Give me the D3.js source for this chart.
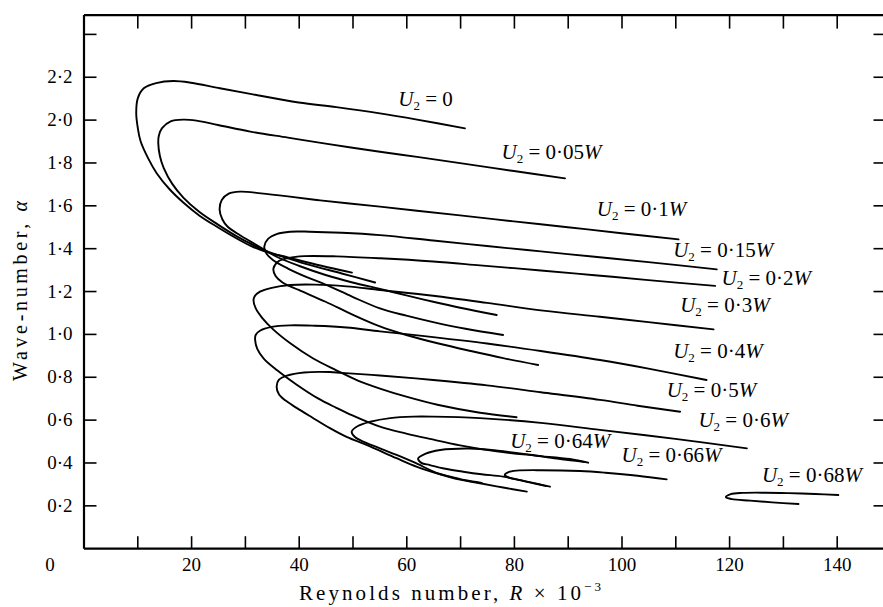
<!DOCTYPE html>
<html><head><meta charset="utf-8">
<script src="https://cdn.jsdelivr.net/npm/d3@7"></script>
<style>
html,body{margin:0;padding:0;background:#fff;}
svg{display:block;font-family:"Liberation Serif","Times New Roman",serif;}
</style></head><body>
<svg id="chart" width="883" height="607"></svg>
<script>
// ---- axis ticks ----
const xTickValues = [10,20,30,40,50,60,70,80,90,100,110,120,130,140];
const xLabelValues = [20,40,60,80,100,120,140];
const yTickValues = [0.2,0.4,0.6,0.8,1.0,1.2,1.4,1.6,1.8,2.0,2.2,2.4];
const yLabelValues = [0.2,0.4,0.6,0.8,1.0,1.2,1.4,1.6,1.8,2.0,2.2];
const originLabel = "0";

// ---- neutral curves: [R x 1e-3, alpha], from upper-branch end through nose to lower-branch end ----
const curveU000 = [[70.9,1.959],[62,2.0],[55.1,2.029],[47,2.058],[40,2.08],[31,2.12],[25,2.148],[20,2.172],[16.7,2.18],[13.5,2.17],[11.2,2.146],[10.1,2.1],[9.8,2.03],[10.1,1.96],[10.6,1.9],[12,1.82],[13.6,1.75],[16,1.675],[18.6,1.612],[21.5,1.553],[24.8,1.5],[28,1.452],[31,1.412],[33.8,1.384],[38,1.357],[43,1.325],[49.9,1.286]];
const curveU005 = [[89.5,1.726],[80,1.76],[70,1.797],[62,1.826],[55.1,1.85],[45,1.888],[38,1.916],[31,1.944],[25,1.975],[21,1.995],[18.6,2.0],[16.2,1.992],[14.6,1.96],[14.0,1.925],[13.9,1.889],[14.2,1.83],[14.9,1.775],[16.5,1.7],[18.6,1.635],[21.5,1.57],[25,1.51],[28.5,1.455],[31.5,1.415],[34,1.386],[38,1.353],[42,1.322],[48,1.282],[54.2,1.24]];
const curveU010 = [[110.6,1.441],[100,1.47],[90,1.498],[80,1.525],[70,1.553],[62,1.575],[55.1,1.594],[49,1.61],[43.4,1.625],[38,1.642],[33,1.656],[29.1,1.664],[27,1.655],[25.7,1.625],[25.3,1.58],[25.8,1.535],[26.8,1.5],[28.5,1.47],[31,1.432],[33.5,1.395],[35.9,1.36],[40,1.318],[45,1.275],[50,1.24],[55.1,1.21],[60,1.18],[65,1.15],[70,1.122],[76.8,1.088]];
const curveU015 = [[117.7,1.301],[105,1.335],[95,1.36],[85,1.385],[75,1.41],[65,1.436],[55.1,1.461],[48,1.472],[42,1.477],[38.4,1.477],[36,1.467],[34.3,1.443],[33.6,1.407],[34.0,1.375],[35.2,1.345],[38,1.305],[41.5,1.265],[45,1.23],[50,1.173],[55.1,1.119],[60,1.085],[65,1.055],[71,1.024],[78,0.995]];
const curveU020 = [[117.4,1.224],[105,1.251],[95,1.274],[85,1.296],[73.7,1.32],[65,1.338],[55.1,1.353],[47,1.362],[41,1.363],[38.2,1.355],[36.2,1.338],[35.3,1.305],[35.7,1.27],[37,1.24],[40,1.205],[45,1.15],[50,1.09],[55.1,1.035],[60,0.995],[66,0.955],[72,0.92],[78,0.887],[84.5,0.855]];
const curveU030 = [[117.1,1.021],[105,1.055],[96,1.08],[85,1.11],[75,1.145],[65,1.178],[55.1,1.205],[48.9,1.222],[43,1.23],[38.4,1.228],[35,1.215],[32.8,1.197],[31.8,1.175],[31.6,1.158],[32.0,1.12],[33.2,1.075],[35.3,1.02],[38.5,0.955],[42.7,0.885],[47,0.83],[51,0.782],[55.1,0.745],[60,0.707],[66,0.668],[73.7,0.632],[80.5,0.611]];
const curveU040 = [[115.8,0.785],[105,0.838],[96,0.878],[85,0.92],[75,0.955],[65,0.985],[55.1,1.012],[48.9,1.03],[43,1.038],[38.4,1.04],[35,1.033],[32.8,1.015],[32.0,0.995],[31.9,0.972],[32.3,0.93],[33.5,0.885],[36,0.83],[39.5,0.765],[43.5,0.7],[47,0.655],[49.5,0.625],[55.1,0.567],[60,0.535],[64.4,0.51],[70,0.48],[76.8,0.452],[84,0.432],[90.4,0.416],[93.8,0.399]];
const curveU050 = [[110.9,0.637],[103,0.665],[96,0.692],[85,0.728],[75,0.76],[65,0.785],[55.1,0.806],[48,0.818],[45.8,0.822],[41,0.82],[37.8,0.805],[36.3,0.785],[35.9,0.755],[36.3,0.72],[37.5,0.69],[39.6,0.655],[42.5,0.61],[45.8,0.56],[49,0.518],[52.6,0.482],[58.2,0.42],[62,0.38],[66.3,0.345],[70,0.32],[73.7,0.303],[78,0.283],[82.4,0.264]];
const curveU060 = [[123.3,0.466],[110,0.51],[96,0.552],[85,0.585],[73.7,0.607],[65,0.614],[61.3,0.614],[57,0.607],[53.3,0.59],[51,0.57],[49.85,0.544],[50.4,0.52],[52,0.497],[55,0.467],[58.2,0.435],[61.5,0.4],[65.6,0.352],[68,0.335],[71,0.317],[74,0.305]];
const curveU064 = [[93,0.403],[88,0.418],[83,0.436],[77,0.455],[71.8,0.465],[66.3,0.458],[63.5,0.44],[62.2,0.419],[62.8,0.398],[64.4,0.388],[67,0.372],[70.6,0.357],[74,0.345],[78,0.334],[82,0.313],[86.7,0.287]];
const curveU066 = [[108.4,0.321],[103,0.338],[97,0.352],[92.3,0.36],[85,0.364],[80.5,0.362],[79,0.355],[78.3,0.342],[79,0.331],[81,0.318],[83.5,0.304],[86,0.29]];
const curveU068 = [[140.3,0.248],[136,0.253],[131,0.257],[126.7,0.259],[122.5,0.258],[120.3,0.252],[119.4,0.238],[120.5,0.229],[123.9,0.222],[128,0.214],[132.9,0.206]];

const curves = [curveU000,curveU005,curveU010,curveU015,curveU020,curveU030,curveU040,curveU050,curveU060,curveU064,curveU066,curveU068];

// ---- curve labels ----
const labelValues = ["0","0·05","0·1","0·15","0·2","0·3","0·4","0·5","0·6","0·64","0·66","0·68"];
const labelR     = [58.5, 77.7, 95.4, 109.6, 118.6, 110.9, 109.6, 108.4, 114.3, 79.3, 100.0, 126.1];
const labelAlpha = [2.064, 1.815, 1.55, 1.357, 1.229, 1.104, 0.886, 0.707, 0.567, 0.466, 0.404, 0.310];

const svg = d3.select("#chart");
const x = d3.scaleLinear().domain([0,150]).range([83.5,890.5]);
const y = d3.scaleLinear().domain([0,2.49]).range([548.2,14.6]);
const fmt = d => d3.format(".1f")(d).replace(".", "·");

function styleAxis(g){
  g.select(".domain").attr("stroke","#000").attr("stroke-width",2.2);
  g.selectAll(".tick line").attr("stroke","#000").attr("stroke-width",1.6);
  g.selectAll(".tick text").attr("fill","#000").attr("font-size",19)
   .attr("font-family","'Liberation Serif','Times New Roman',serif");
}

svg.append("g").attr("transform",`translate(0,${y(0)})`)
  .call(d3.axisBottom(x).tickValues(xTickValues).tickSizeInner(-12).tickSizeOuter(0).tickPadding(9)
    .tickFormat(d => xLabelValues.includes(d) ? d : ""))
  .call(styleAxis);
svg.append("g").attr("transform",`translate(0,${y(2.49)})`)
  .call(d3.axisTop(x).tickValues(xTickValues).tickSizeInner(-14).tickSizeOuter(0).tickFormat(""))
  .call(styleAxis);
svg.append("g").attr("transform",`translate(${x(0)},0)`)
  .call(d3.axisLeft(y).tickValues(yTickValues).tickSizeInner(-13).tickSizeOuter(0).tickPadding(11)
    .tickFormat(d => yLabelValues.some(v => Math.abs(v-d)<1e-9) ? fmt(d) : ""))
  .call(styleAxis);
svg.append("g").attr("transform",`translate(${x(150)},0)`)
  .call(d3.axisRight(y).tickValues(yTickValues).tickSizeInner(-17).tickSizeOuter(0).tickFormat(""))
  .call(styleAxis);

svg.append("text").attr("x",50).attr("y",571).attr("text-anchor","middle")
  .attr("font-size",19).text(originLabel);

// axis titles
const xt = svg.append("text").attr("x",299).attr("y",600).attr("font-size",21)
  .attr("textLength",302).attr("lengthAdjust","spacing");
xt.append("tspan").text("Reynolds number, ");
xt.append("tspan").attr("font-style","italic").text("R");
xt.append("tspan").text(" × 10");
xt.append("tspan").attr("font-size",13).attr("dy",-9).text("−3");

const yt = svg.append("text").attr("transform","translate(27,291) rotate(-90)")
  .attr("text-anchor","middle").attr("font-size",20)
  .attr("textLength",180).attr("lengthAdjust","spacing");
yt.append("tspan").text("Wave-number, ");
yt.append("tspan").attr("font-style","italic").text("α");

// curves
const line = d3.line().x(d => x(d[0])).y(d => y(d[1])).curve(d3.curveCatmullRom.alpha(0.5));
svg.append("g").selectAll("path").data(curves).join("path")
  .attr("d", line).attr("fill","none").attr("stroke","#000")
  .attr("stroke-width",1.9).attr("stroke-linejoin","round").attr("stroke-linecap","round");

// labels
const lg = svg.append("g").attr("font-size",21);
labelValues.forEach((v,i) => {
  const t = lg.append("text").attr("x", x(labelR[i])).attr("y", y(labelAlpha[i]));
  t.append("tspan").attr("font-style","italic").text("U");
  t.append("tspan").attr("font-size",13).attr("dy",4).text("2");
  t.append("tspan").attr("dy",-4).text(" = " + v);
  if (v !== "0") t.append("tspan").attr("font-style","italic").text("W");
});
</script>
</body></html>
